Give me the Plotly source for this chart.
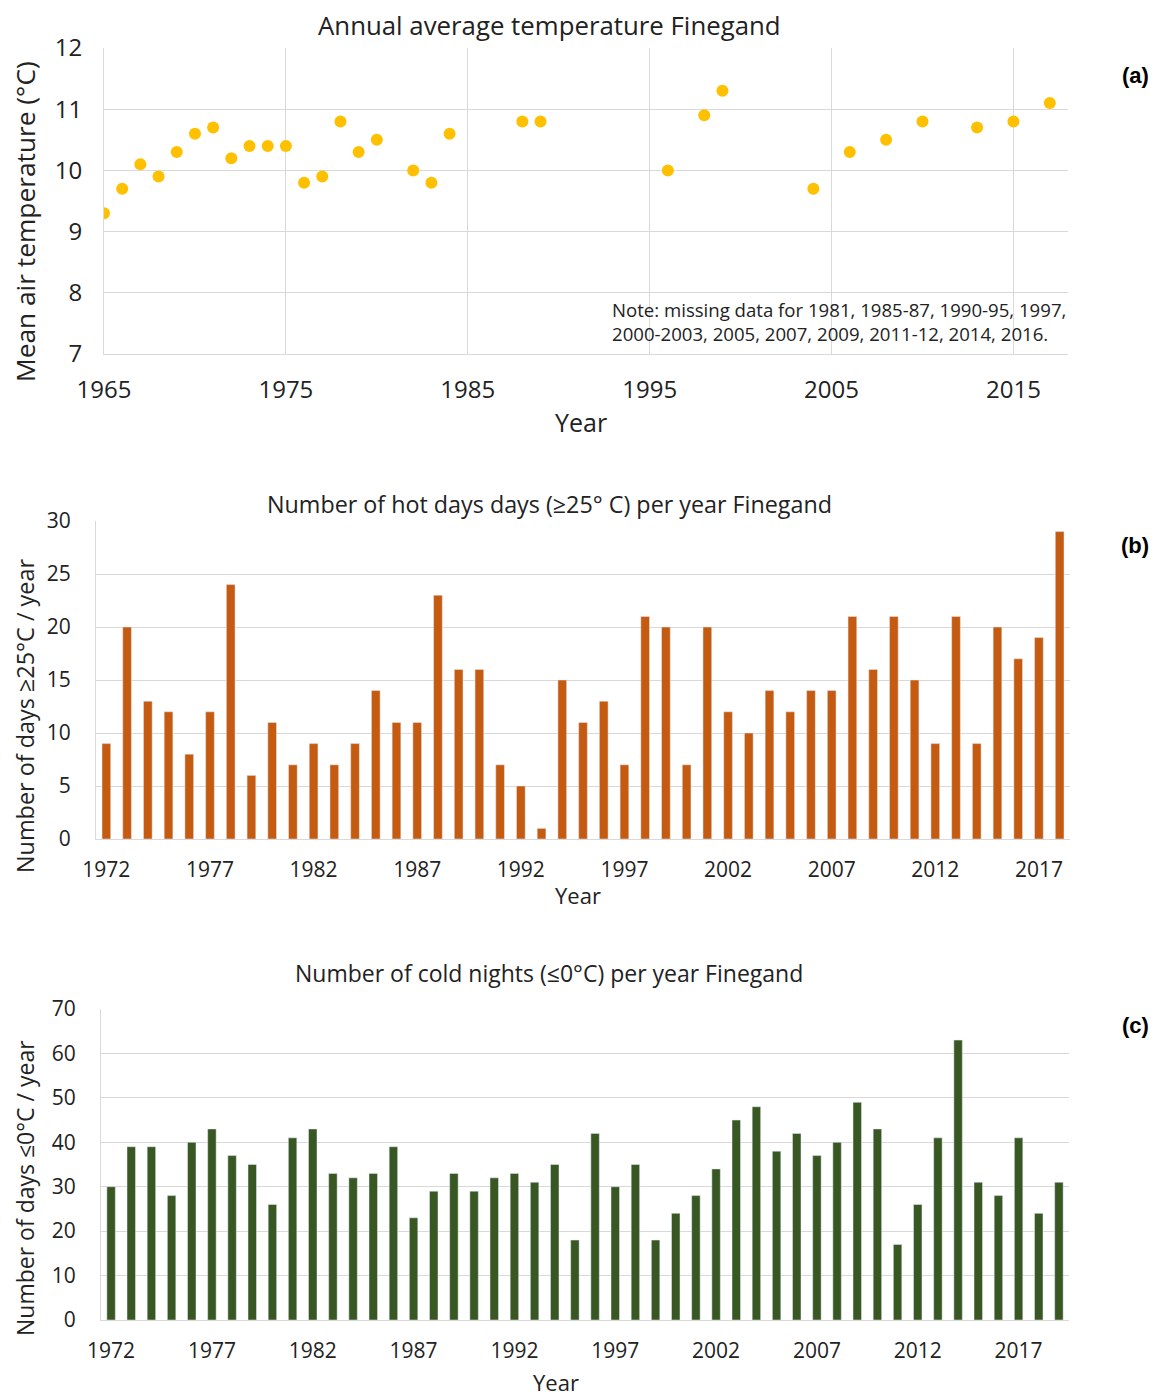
import plotly.graph_objects as go

# (a) annual mean temperature
temp_years = [1965, 1966, 1967, 1968, 1969, 1970, 1971, 1972, 1973, 1974, 1975, 1976,
              1977, 1978, 1979, 1980, 1982, 1983, 1984, 1988, 1989, 1996, 1998, 1999,
              2004, 2006, 2008, 2010, 2013, 2015, 2017]
temp_values = [9.3, 9.7, 10.1, 9.9, 10.3, 10.6, 10.7, 10.2, 10.4, 10.4, 10.4, 9.8,
               9.9, 10.8, 10.3, 10.5, 10.0, 9.8, 10.6, 10.8, 10.8, 10.0, 10.9, 11.3,
               9.7, 10.3, 10.5, 10.8, 10.7, 10.8, 11.1]

# (b) hot days per year
hot_years = list(range(1972, 2019))
hot_days = [9, 20, 13, 12, 8, 12, 24, 6, 11, 7, 9, 7, 9, 14, 11, 11, 23, 16, 16, 7,
            5, 1, 15, 11, 13, 7, 21, 20, 7, 20, 12, 10, 14, 12, 14, 14, 21, 16, 21, 15,
            9, 21, 9, 20, 17, 19, 29]

# (c) cold nights per year
cold_years = list(range(1972, 2020))
cold_nights = [30, 39, 39, 28, 40, 43, 37, 35, 26, 41, 43, 33, 32, 33, 39, 23, 29, 33,
               29, 32, 33, 31, 35, 18, 42, 30, 35, 18, 24, 28, 34, 45, 48, 38, 42, 37,
               40, 49, 43, 17, 26, 41, 63, 31, 28, 41, 24, 31]

year_ticks_a = [1965, 1975, 1985, 1995, 2005, 2015]
year_ticks_bc = [1972, 1977, 1982, 1987, 1992, 1997, 2002, 2007, 2012, 2017]

# the page body adds an 8px offset, so the figure is a bit smaller than the window
OFF = 8
W, H = 1162 - OFF, 1396 - OFF
FONT = "Open Sans"
GRID = "#D9D9D9"


def px(x):
    return (x - OFF) / W


def py(y):
    return 1 - (y - OFF) / H


fig = go.Figure()

fig.add_trace(go.Scatter(
    x=temp_years, y=temp_values, mode="markers",
    marker=dict(color="#FFC000", size=12), xaxis="x", yaxis="y"))

fig.add_trace(go.Bar(
    x=hot_years, y=hot_days, marker_color="#C55A11", xaxis="x2", yaxis="y2"))

fig.add_trace(go.Bar(
    x=cold_years, y=cold_nights, marker_color="#385723", xaxis="x3", yaxis="y3"))

axis_common = dict(showgrid=True, gridcolor=GRID, zeroline=False, showline=True,
                   linecolor=GRID, ticks="", automargin=False,
                   tickfont=dict(family=FONT, color="#222"))

fig.update_layout(
    width=W, height=H,
    margin=dict(l=0, r=0, t=0, b=0, autoexpand=False),
    paper_bgcolor="white", plot_bgcolor="white",
    showlegend=False, bargap=0.58,
    font=dict(family=FONT, color="#222"),
    xaxis=dict(axis_common, domain=[px(104), px(1068)], range=[1965, 2018],
               tickvals=year_ticks_a, tickfont_size=24, ticklabelstandoff=14,
               anchor="y"),
    yaxis=dict(axis_common, domain=[py(354), py(48)], range=[7, 12], dtick=1,
               tickfont_size=24, ticklabelstandoff=16, anchor="x"),
    xaxis2=dict(axis_common, domain=[px(96), px(1070)], range=[1971.5, 2018.5],
                tickvals=year_ticks_bc, showgrid=False, tickfont_size=21,
                ticklabelstandoff=12, anchor="y2"),
    yaxis2=dict(axis_common, domain=[py(839), py(521)], range=[0, 30], dtick=5,
                tickfont_size=21, ticklabelstandoff=20, anchor="x2"),
    xaxis3=dict(axis_common, domain=[px(101), px(1069)], range=[1971.5, 2019.5],
                tickvals=year_ticks_bc, showgrid=False, tickfont_size=21,
                ticklabelstandoff=12, anchor="y3"),
    yaxis3=dict(axis_common, domain=[py(1320), py(1009)], range=[0, 70], dtick=10,
                tickfont_size=21, ticklabelstandoff=20, anchor="x3"),
)

texts = [
    # titles
    dict(x=px(549), y=py(25), text="Annual average temperature Finegand", size=25.8),
    dict(x=px(549), y=py(504), text="Number of hot days days (≥25° C) per year Finegand", size=23.3),
    dict(x=px(549), y=py(973), text="Number of cold nights (≤0°C) per year Finegand", size=23),
    # x titles
    dict(x=px(581), y=py(422), text="Year", size=25),
    dict(x=px(578), y=py(895), text="Year", size=22),
    dict(x=px(556), y=py(1382), text="Year", size=22),
]
for t in texts:
    fig.add_annotation(x=t["x"], y=t["y"], xref="paper", yref="paper", text=t["text"],
                       showarrow=False, xanchor="center", yanchor="middle",
                       font=dict(family=FONT, size=t["size"], color="#222"))

ytitles = [
    dict(x=px(25), y=py(222), text="Mean air temperature (°C)", size=26.3),
    dict(x=px(25), y=py(716), text="Number of days ≥25°C / year", size=23.4),
    dict(x=px(25), y=py(1188), text="Number of days ≤0°C / year", size=23),
]
for t in ytitles:
    fig.add_annotation(x=t["x"], y=t["y"], xref="paper", yref="paper", text=t["text"],
                       showarrow=False, textangle=-90, xanchor="center", yanchor="middle",
                       font=dict(family=FONT, size=t["size"], color="#222"))

# note on missing data
fig.add_annotation(x=px(610), y=py(322), xref="paper", yref="paper",
                   text="Note: missing data for 1981, 1985-87, 1990-95, 1997,<br>"
                        "2000-2003, 2005, 2007, 2009, 2011-12, 2014, 2016.",
                   showarrow=False, xanchor="left", yanchor="middle", align="left",
                   font=dict(family=FONT, size=18.6, color="#222"))

# panel labels
for lab, y in [("(a)", 75), ("(b)", 545), ("(c)", 1025)]:
    fig.add_annotation(x=px(1135), y=py(y), xref="paper", yref="paper", text="<b>" + lab + "</b>",
                       showarrow=False, xanchor="center", yanchor="middle",
                       font=dict(family="Liberation Sans", size=22, color="black"))

fig.write_html("out.html")
